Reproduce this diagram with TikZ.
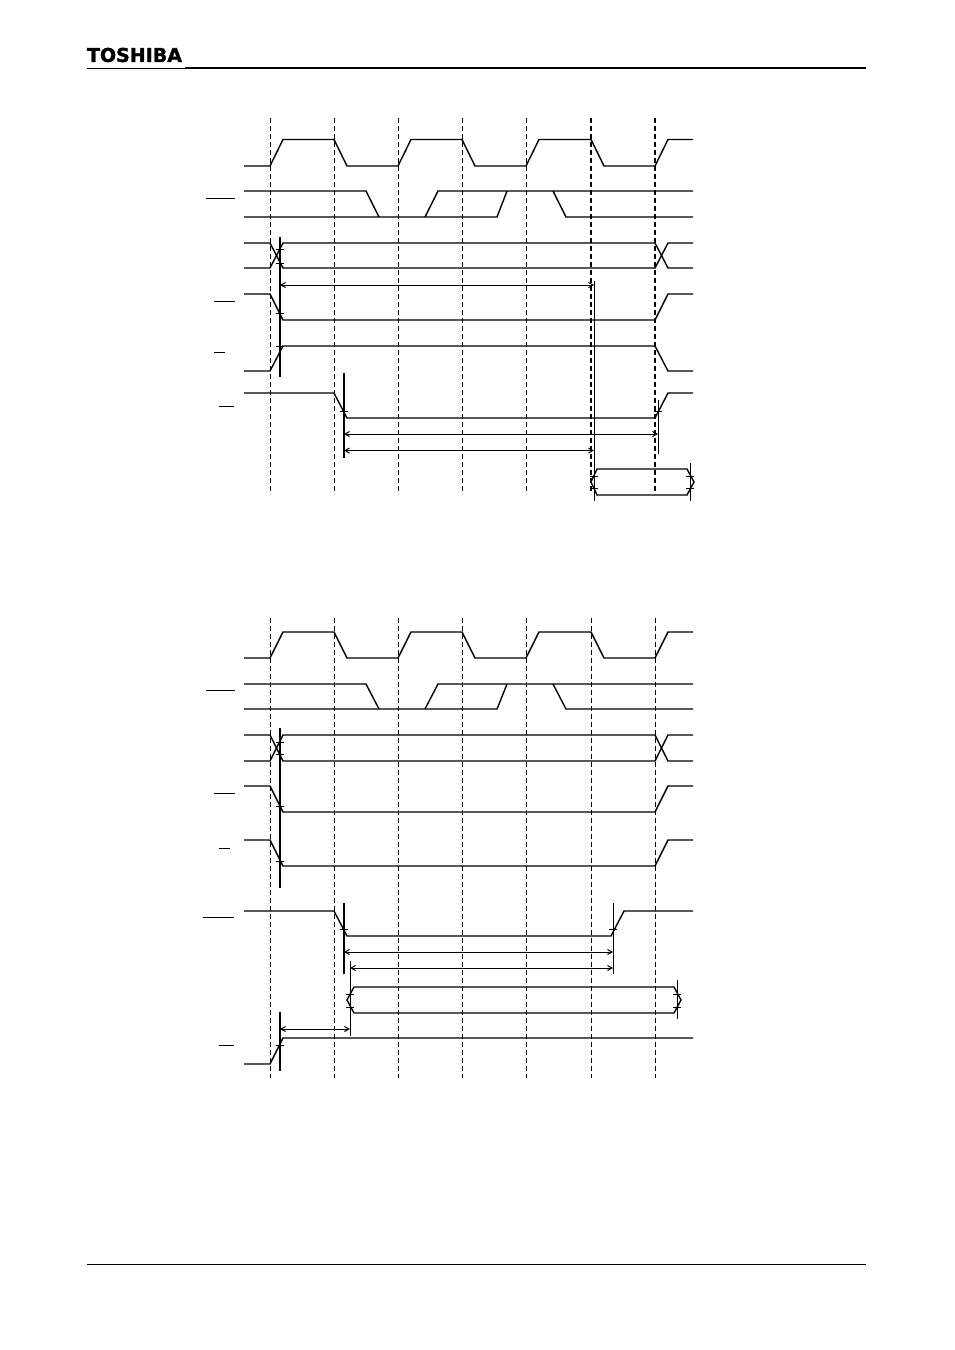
\documentclass[tikz,border=0pt]{standalone}
\usepackage{fontspec}
\setmainfont[BoldFeatures={FakeBold=1.6}]{DejaVu Sans}
\usetikzlibrary{arrows.meta}
\begin{document}
\begin{tikzpicture}[
       x=1pt,
       y=-1pt,
       signal/.style={line width=1.4pt,line join=miter},
       guide/.style={line width=0.85pt,dash pattern=on 5pt off 3pt},
       guidebold/.style={line width=1.8pt,dash pattern=on 5pt off 3pt},
       marker/.style={line width=2.8pt},
       limit/.style={line width=1pt},
       tickmark/.style={line width=0.9pt},
       span/.style={line width=1pt,{Straight Barb[length=4.5pt,width=5pt]}-{Straight Barb[length=4.5pt,width=5pt]}},
       bar/.style={line width=1pt}
     ]
       \useasboundingbox (0,0) rectangle (954,1350);

       % header and footer
       \node (logo) at (134.5,55) [inner sep=0pt,font=\fontsize{19pt}{20pt}\selectfont\bfseries]{TOSHIBA};
       \draw[line width=0.8pt] (87,68) -- (185,68);
       \draw[line width=1.4pt] (185,68) -- (866,68);
       \draw[line width=0.8pt] (87,1264) -- (866,1264);

       % upper diagram
       \foreach \x in {270,334,398,462,526}
         \draw[guide] (\x,118) -- (\x,494);
       \foreach \x in {591,655}
         \draw[guidebold] (\x,118) -- (\x,494);

       \draw[signal] (244,166) -- (270,166) -- (283,139.5) -- (334,139.5) -- (347,166) -- (398,166) -- (411,139.5) -- (462,139.5) -- (475,166) -- (526,166) -- (539,139.5) -- (591,139.5) -- (604,166) -- (655,166) -- (668,139.5) -- (693,139.5);

       \draw[bar] (206,198) -- (235,198);
       \draw[signal] (244,191) -- (366,191) -- (379,217);
       \draw[signal] (244,217) -- (497,217) -- (507,191);
       \draw[signal] (425,217) -- (438,191) -- (693,191);
       \draw[signal] (553,191) -- (566,217) -- (693,217);

       \draw[signal] (244,243) -- (270,243) -- (283,268) -- (655,268) -- (668,243) -- (693,243);
       \draw[signal] (244,268) -- (270,268) -- (283,243) -- (655,243) -- (668,268) -- (693,268);

       \draw[bar] (214,301) -- (235,301);
       \draw[signal] (244,294) -- (270,294) -- (283,320) -- (655,320) -- (668,294) -- (693,294);

       \draw[bar] (214,352) -- (225,352);
       \draw[signal] (244,371) -- (270,371) -- (283,346) -- (655,346) -- (668,371) -- (693,371);

       \draw[bar] (219,406) -- (234,406);
       \draw[signal] (244,393) -- (334,393) -- (347,418) -- (655,418) -- (668,393) -- (693,393);

       \draw[signal] (597,469) -- (687,469) -- (694,482) -- (687,495) -- (597,495) -- (591,482) -- cycle;

       \draw[marker] (280,237) -- (280,377);
       \draw[marker] (344,373) -- (344,458);
       \draw[limit] (594,281) -- (594,501);
       \draw[limit] (658,400) -- (658,454);
       \draw[limit] (690,463) -- (690,501);

       \foreach \y in {249,263,313,346}
         \draw[tickmark] (276,\y) -- (284,\y);
       \draw[tickmark] (340,411) -- (348,411);
       \draw[tickmark] (654,411.5) -- (662,411.5);
       \foreach \y in {476,488} {
         \draw[tickmark] (590,\y) -- (598,\y);
         \draw[tickmark] (686,\y) -- (694,\y);
       }

       \coordinate (ua) at (280,285);
       \coordinate (ub) at (594,285);
       \coordinate (uc) at (344,434);
       \coordinate (ud) at (658,434);
       \coordinate (ue) at (344,450.5);
       \coordinate (uf) at (594,450.5);
       \draw[span] (ua) -- (ub);
       \draw[span] (uc) -- (ud);
       \draw[span] (ue) -- (uf);

       % lower diagram
       \foreach \x in {270,334,398,462,526,591,655}
         \draw[guide] (\x,618) -- (\x,1078);

       \draw[signal] (244,658) -- (270,658) -- (283,632) -- (334,632) -- (347,658) -- (398,658) -- (411,632) -- (462,632) -- (475,658) -- (526,658) -- (539,632) -- (591,632) -- (604,658) -- (655,658) -- (668,632) -- (693,632);

       \draw[bar] (206,690) -- (235,690);
       \draw[signal] (244,684) -- (366,684) -- (379,709);
       \draw[signal] (244,709) -- (497,709) -- (507,684);
       \draw[signal] (425,709) -- (438,684) -- (693,684);
       \draw[signal] (553,684) -- (566,709) -- (693,709);

       \draw[signal] (244,735) -- (270,735) -- (283,761) -- (655,761) -- (668,735) -- (693,735);
       \draw[signal] (244,761) -- (270,761) -- (283,735) -- (655,735) -- (668,761) -- (693,761);

       \draw[bar] (214,793) -- (235,793);
       \draw[signal] (244,786) -- (270,786) -- (283,812) -- (655,812) -- (668,786) -- (693,786);

       \draw[bar] (219,848) -- (230,848);
       \draw[signal] (244,840) -- (270,840) -- (283,866) -- (655,866) -- (668,840) -- (693,840);

       \draw[bar] (203,917) -- (234,917);
       \draw[signal] (244,911) -- (334,911) -- (347,936) -- (611,936) -- (624,911) -- (693,911);

       \draw[signal] (354,987) -- (674,987) -- (681,1000) -- (674,1013) -- (354,1013) -- (347,1000) -- cycle;

       \draw[bar] (219,1045) -- (234,1045);
       \draw[signal] (244,1064) -- (270,1064) -- (283,1038) -- (693,1038);

       \draw[marker] (280,728) -- (280,888);
       \draw[marker] (344,903) -- (344,974);
       \draw[marker] (280,1012) -- (280,1071);
       \draw[limit] (613,903) -- (613,974);
       \draw[limit] (350,961) -- (350,1036);
       \draw[limit] (677,980) -- (677,1019);

       \foreach \y in {742,754,806,861,1045}
         \draw[tickmark] (276,\y) -- (284,\y);
       \draw[tickmark] (340,929) -- (348,929);
       \draw[tickmark] (609,929) -- (617,929);
       \foreach \y in {994,1007} {
         \draw[tickmark] (346,\y) -- (354,\y);
         \draw[tickmark] (673,\y) -- (681,\y);
       }

       \coordinate (la) at (344,952);
       \coordinate (lb) at (613,952);
       \coordinate (lc) at (350,968);
       \coordinate (ld) at (613,968);
       \coordinate (le) at (280,1029);
       \coordinate (lf) at (350,1029);
       \draw[span] (la) -- (lb);
       \draw[span] (lc) -- (ld);
       \draw[span] (le) -- (lf);

\end{tikzpicture}
\end{document}
